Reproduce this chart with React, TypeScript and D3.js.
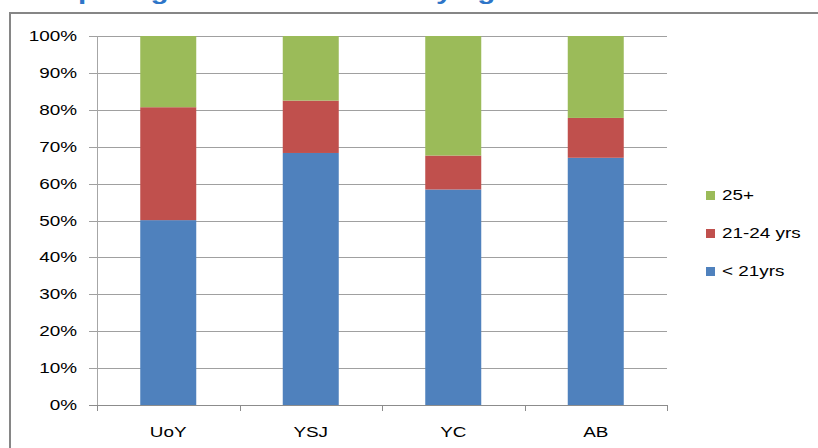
import React from "react";
import * as d3 from "d3";

const categories = ["UoY", "YSJ", "YC", "AB"];
const seriesNames = ["< 21yrs", "21-24 yrs", "25+"];
const under21 = [50.1, 68.3, 58.4, 67.0];
const age21to24 = [30.6, 14.2, 9.2, 10.8];
const over25 = [19.3, 17.5, 32.4, 22.2];
const yTicks = [0, 10, 20, 30, 40, 50, 60, 70, 80, 90, 100];
const colors = ["#4F81BD", "#C0504D", "#9BBB59"];
const title = "Comparing ratio of students by age";

const W = 818;
const H = 448;
const FONT = "'Liberation Sans', Arial, sans-serif";
const SX = 1.35;

function SText({ x, y, anchor, children, size = 14, fill = "#000", weight = "normal" }: any) {
  return (
    <text
      transform={`translate(${x},${y}) scale(${SX},1)`}
      textAnchor={anchor}
      fontFamily={FONT}
      fontSize={size}
      fontWeight={weight}
      fill={fill}
    >
      {children}
    </text>
  );
}

export default function App() {
  const left = 97;
  const right = 667;
  const top = 36;
  const bottom = 405;

  const x = d3.scaleBand<string>().domain(categories).range([left, right]).paddingInner(0).paddingOuter(0);
  const y = d3.scaleLinear().domain([0, 100]).range([bottom, top]);
  const barW = 56;

  const rows = categories.map((c, i) => ({
    cat: c,
    s0: under21[i],
    s1: age21to24[i],
    s2: over25[i],
  }));
  const stack = d3.stack<any>().keys(["s0", "s1", "s2"])(rows);

  const legendY = [271, 233, 195];

  return (
    <svg
      width={W}
      height={H}
      style={{ position: "absolute", left: 0, top: 0, background: "#fff" }}
    >
      <rect x={0} y={0} width={W} height={H} fill="#fff" />
      <SText x={12} y={-1.5} anchor="start" size={22} weight="bold" fill="#2E75C8">{title}</SText>
      <rect x={10} y={13} width={W + 20} height={H + 20} fill="none" stroke="#868686" strokeWidth={2} />

      {yTicks.map((t) => (
        <line key={"g" + t} x1={89} x2={right} y1={Math.round(y(t)) + 0.5} y2={Math.round(y(t)) + 0.5}
          stroke={t === 0 ? "#8c8c8c" : "#a0a0a0"} strokeWidth={1} />
      ))}
      <line x1={left + 0.5} x2={left + 0.5} y1={top} y2={bottom} stroke="#a6a6a6" />
      {[...categories.map((c) => x(c)!), right].map((v, i) => (
        <line key={"xt" + i} x1={Math.round(v) + 0.5} x2={Math.round(v) + 0.5} y1={bottom} y2={bottom + 6} stroke="#8c8c8c" />
      ))}

      {stack.map((layer, li) =>
        layer.map((d, i) => (
          <rect
            key={li + "-" + i}
            x={x(categories[i])! + x.bandwidth() / 2 - barW / 2}
            y={y(d[1])}
            width={barW}
            height={y(d[0]) - y(d[1])}
            fill={colors[li]}
          />
        ))
      )}

      {yTicks.map((t) => (
        <SText key={"yl" + t} x={77} y={y(t) + 5} anchor="end">{t + "%"}</SText>
      ))}
      {categories.map((c) => (
        <SText key={"xl" + c} x={x(c)! + x.bandwidth() / 2} y={437} anchor="middle">{c}</SText>
      ))}

      {seriesNames.map((s, i) => (
        <g key={"lg" + s}>
          <rect x={706} y={legendY[i] - 4} width={9} height={9} fill={colors[i]} />
          <SText x={722} y={legendY[i] + 5} anchor="start">{s}</SText>
        </g>
      ))}
    </svg>
  );
}
